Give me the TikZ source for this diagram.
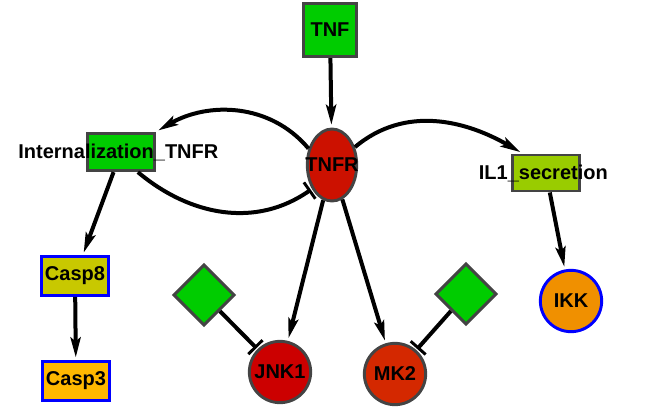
\documentclass[tikz,border=0pt]{standalone}
\usepackage{fontspec}
\setmainfont{Liberation Sans}
\usetikzlibrary{shapes.geometric,arrows.meta}
\definecolor{nodegray}{HTML}{444444}
\definecolor{tnfgreen}{HTML}{00CC00}
\definecolor{ilgreen}{HTML}{99CC00}
\definecolor{tnfrred}{HTML}{CC1100}
\definecolor{jnkred}{HTML}{CC0000}
\definecolor{mkred}{HTML}{D42800}
\definecolor{caspolive}{HTML}{C8C800}
\definecolor{caspgold}{HTML}{FFB800}
\definecolor{ikkorange}{HTML}{F09000}

\begin{document}
\begin{tikzpicture}[x=0.75pt,y=0.75pt,
  font=\fontsize{15}{17}\selectfont\bfseries,
  >={Stealth[length=15pt,width=7.5pt,inset=3pt]},
  every node/.style={inner sep=0pt},
  box/.style={rectangle,draw=nodegray,line width=2.2pt},
  bluebox/.style={rectangle,draw=blue,line width=2.2pt,minimum width=50pt,minimum height=29pt},
  mol/.style={circle,draw=nodegray,line width=2.2pt,minimum size=46pt},
  drug/.style={diamond,aspect=1,draw=nodegray,line width=2.2pt,fill=tnfgreen,minimum width=46pt,minimum height=46pt},
  act/.style={->,line width=3pt,shorten >=2pt},
  inh/.style={-{Bar[width=15pt,line width=2.2pt]},line width=3pt,shorten >=1pt}]
\useasboundingbox (0,0) rectangle (645,408);

\node[box,fill=tnfgreen,minimum size=40pt] (tnf) at (330,378) {TNF};
\node[ellipse,draw=nodegray,line width=2.2pt,fill=tnfrred,minimum width=37pt,minimum height=54pt,label=center:TNFR] (tnfr) at (332,243) {};
\node[box,fill=tnfgreen,minimum width=50pt,minimum height=28pt,label={[xshift=-2pt]center:Internalization\_TNFR}] (intern) at (121,256) {};
\node[box,fill=ilgreen,minimum width=50pt,minimum height=27pt,label={[xshift=-2pt]center:IL1\_secretion}] (il1) at (546,235) {};
\node[bluebox,fill=caspolive] (casp8) at (75,132) {Casp8};
\node[bluebox,fill=caspgold] (casp3) at (76,27) {Casp3};
\node[mol,draw=blue,fill=ikkorange] (ikk) at (571,107) {IKK};
\node[mol,fill=jnkred] (jnk1) at (280,36) {JNK1};
\node[mol,fill=mkred] (mk2) at (395,34) {MK2};
\node[drug] (drugA) at (204,113) {};
\node[drug] (drugB) at (466,114) {};

\draw[act] (tnf) -- (tnfr);
\draw[act] (tnfr.145) to[out=130,in=30] (intern.north east);
\draw[inh] (intern.-50) to[out=-40,in=215] (tnfr.230);
\draw[act] (tnfr.38) to[out=40,in=150] (il1.140);
\draw[act] (intern) -- (casp8);
\draw[act] (casp8) -- (casp3);
\draw[act] (il1) -- (ikk);
\draw[act] (tnfr) -- (jnk1);
\draw[act] (tnfr) -- (mk2);
\draw[inh] (drugA) -- (jnk1);
\draw[inh] (drugB) -- (mk2);
\end{tikzpicture}
\end{document}
